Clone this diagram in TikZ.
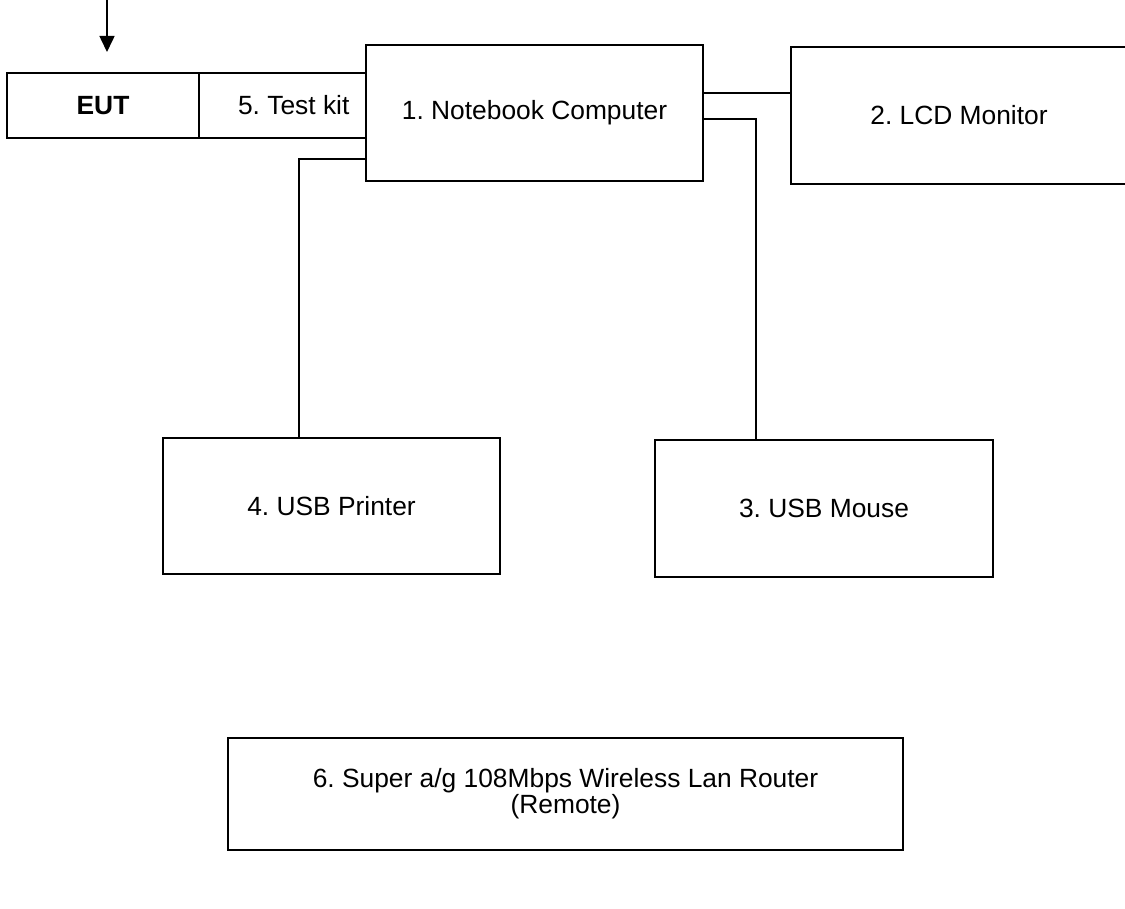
\documentclass[tikz,border=0pt]{standalone}
\usepackage{fontspec}
\setmainfont{Liberation Sans}
\usepackage{tikz}
\usetikzlibrary{arrows.meta}
\frenchspacing

\begin{document}
\begin{tikzpicture}[line width=0.9pt, font=\fontsize{15}{13.5}\selectfont,
    unit/.style={draw, rectangle, inner sep=0pt, outer sep=0pt}]
        % Page frame
        \useasboundingbox (0, 0) rectangle (22.5, -18.16);

        % Equipment under test and its test kit
        \node[unit, minimum width=3.84cm, minimum height=1.3cm] (eut) at (2.06, -2.11) {\textbf{EUT}};
        \node[unit, minimum width=3.34cm, minimum height=1.3cm] (test_kit) at (5.65, -2.11) {\hspace{0.45cm}5. Test kit};

        % Support units
        \node[unit, minimum width=6.74cm, minimum height=2.72cm] (notebook) at (10.69, -2.26) {1. Notebook Computer};
        \node[unit, minimum width=6.72cm, minimum height=2.74cm] (lcd_monitor) at (19.18, -2.31) {2. LCD Monitor};
        \node[unit, minimum width=6.74cm, minimum height=2.72cm] (usb_printer) at (6.63, -10.12) {4. USB Printer};
        \node[unit, minimum width=6.76cm, minimum height=2.74cm] (usb_mouse) at (16.48, -10.17) {3. USB Mouse};
        \node[unit, minimum width=13.5cm, minimum height=2.24cm, align=center] (router) at (11.31, -15.88)
            {6. Super a/g 108Mbps Wireless Lan Router\\(Remote)};

        % Arrow pointing at the EUT
        \coordinate (arrow_start) at (2.14, 0);
        \coordinate (arrow_end) at (2.14, -1.04);
        \draw[-{Triangle[width=0.3cm, length=0.32cm]}] (arrow_start) -- (arrow_end);

        % Cables
        \draw ([yshift=0.4cm]notebook.east) -- ([yshift=0.4cm]notebook.east -| lcd_monitor.west);
        \draw ([yshift=-0.12cm]notebook.east) -| ([xshift=-1.36cm]usb_mouse.north);
        \draw ([yshift=-0.92cm]notebook.west) -| ([xshift=-0.65cm]usb_printer.north);
      \end{tikzpicture}
\end{document}
